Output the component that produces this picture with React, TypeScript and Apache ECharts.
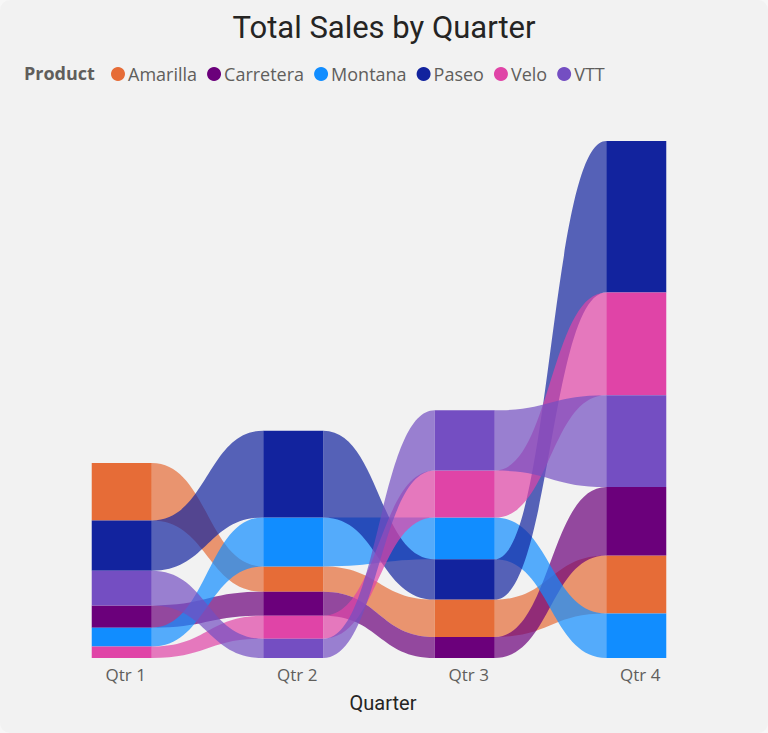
import React, { useEffect, useRef } from "react";
import * as echarts from "echarts";

const quarters = ["Qtr 1", "Qtr 2", "Qtr 3", "Qtr 4"];
const products = ["Amarilla", "Carretera", "Montana", "Paseo", "Velo", "VTT"];
const productColors = ["#E66C37", "#6B007B", "#118DFF", "#12239E", "#E044A7", "#744EC2"];

// Total sales in millions, per quarter
const amarilla = [5.74, 2.53, 3.74, 5.8];
const carretera = [2.23, 2.4, 2.1, 6.86];
const montana = [1.87, 4.9, 4.17, 4.44];
const paseo = [5.03, 8.67, 4.03, 15.16];
const velo = [1.16, 2.3, 4.7, 10.27];
const vtt = [3.47, 1.93, 6.03, 9.17];

const seriesValues = [amarilla, carretera, montana, paseo, velo, vtt];

// ribbon stacking: largest value on top in each quarter
function buildStacks() {
  const stacks: { b: number; t: number }[][] = products.map(() => []);
  quarters.forEach((_, qi) => {
    const order = products.map((_, pi) => pi).sort((a, b) => seriesValues[a][qi] - seriesValues[b][qi]);
    let acc = 0;
    order.forEach((pi) => {
      const v = seriesValues[pi][qi];
      stacks[pi][qi] = { b: acc, t: acc + v };
      acc += v;
    });
  });
  return stacks;
}

export default function App() {
  const ref = useRef<HTMLDivElement>(null);
  useEffect(() => {
    if (!ref.current) return;
    const chart = echarts.init(ref.current, undefined, { renderer: "svg" });
    const stacks = buildStacks();
    const series = products.map((name, pi) => ({
      name,
      type: "custom",
      itemStyle: { color: productColors[pi] },
      data: quarters.map((_, qi) => [qi, stacks[pi][qi].t]),
      renderItem: (params: any, api: any) => {
        const qi = params.dataIndex;
        const s = stacks[pi][qi];
        const top = api.coord([qi, s.t]);
        const bot = api.coord([qi, s.b]);
        const bw = api.size([1, 0])[0] * 0.35;
        const children: any[] = [];
        if (qi < quarters.length - 1) {
          const n = stacks[pi][qi + 1];
          const nt = api.coord([qi + 1, n.t]);
          const nb = api.coord([qi + 1, n.b]);
          const x0 = top[0] + bw / 2;
          const x1 = nt[0] - bw / 2;
          const xm = (x0 + x1) / 2;
          const d =
            `M${x0},${top[1]} C${xm},${top[1]} ${xm},${nt[1]} ${x1},${nt[1]} ` +
            `L${x1},${nb[1]} C${xm},${nb[1]} ${xm},${bot[1]} ${x0},${bot[1]} Z`;
          children.push({
            type: "path",
            shape: { pathData: d },
            style: { fill: productColors[pi], opacity: 0.7 },
          });
        }
        children.push({
          type: "rect",
          shape: { x: top[0] - bw / 2, y: top[1], width: bw, height: bot[1] - top[1] },
          style: { fill: productColors[pi] },
        });
        return { type: "group", children };
      },
    }));

    chart.setOption({
      animation: false,
      backgroundColor: "#F2F2F2",
      title: {
        text: "Total Sales by Quarter",
        left: "center",
        top: 7,
        textStyle: { fontFamily: "Roboto", fontSize: 31, fontWeight: "normal", color: "#252423" },
      },
      legend: {
        left: 106,
        top: 60,
        icon: "circle",
        itemWidth: 14,
        itemHeight: 14,
        itemGap: 10,
        textStyle: { fontFamily: "Open Sans", fontSize: 18, color: "#605E5C", padding: [0, 0, 0, -2] },
        data: products,
      },
      graphic: [
        {
          type: "text",
          left: 24,
          top: 64,
          style: {
            text: "Product",
            fontFamily: "Open Sans",
            fontSize: 18,
            fontWeight: "bold",
            fill: "#605E5C",
          },
        },
      ],
      grid: { left: 36, right: 46, top: 138, bottom: 75 },
      xAxis: {
        type: "category",
        data: quarters,
        boundaryGap: true,
        axisLine: { show: false },
        axisTick: { show: false },
        axisLabel: {
          color: "#605E5C",
          fontFamily: "Open Sans",
          fontSize: 17,
          margin: 8,
          padding: [0, 0, 0, 8],
        },
        name: "Quarter",
        nameLocation: "middle",
        nameGap: 35,
        nameTextStyle: { fontFamily: "Roboto", fontSize: 20, fontWeight: "normal", color: "#252423", padding: [0, 0, 0, 8] },
      },
      yAxis: {
        type: "value",
        min: 0,
        max: 52,
        show: false,
        splitLine: { show: false },
      },
      series,
    });
    return () => chart.dispose();
  }, []);
  return (
    <div
      style={{
        position: "absolute",
        left: 0,
        top: 0,
        width: 768,
        height: 733,
        background: "#F7F7F7",
      }}
    >
      <div
        ref={ref}
        style={{ position: "absolute", left: 0, top: 0, width: 768, height: 733, borderRadius: 10, overflow: "hidden" }}
      />
    </div>
  );
}
